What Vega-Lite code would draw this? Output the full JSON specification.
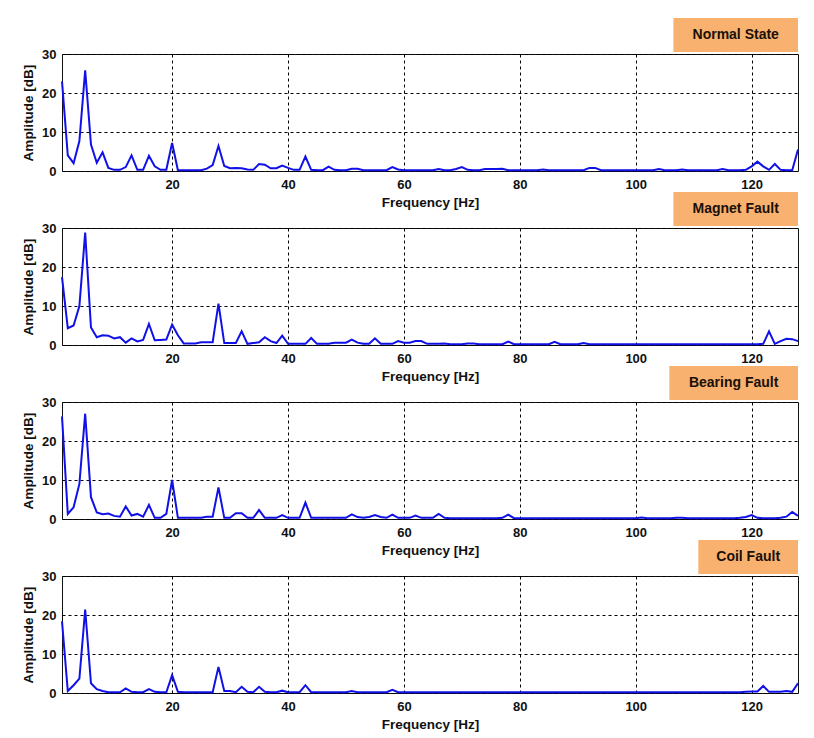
{
  "$schema": "https://vega.github.io/schema/vega-lite/v6.json",
  "padding": {"left": 21, "top": 17, "right": 11, "bottom": 5},
  "background": "white",
  "config": {
    "font": "Liberation Sans",
    "view": {"stroke": "#111", "strokeWidth": 1},
    "axis": {
      "labelFont": "Liberation Sans", "labelFontWeight": "bold", "labelFontSize": 13, "labelColor": "#111",
      "titleFont": "Liberation Sans", "titleFontWeight": "bold", "titleFontSize": 13.5, "titleColor": "#111",
      "grid": true, "gridColor": "#000", "gridOpacity": 1, "gridDash": [3, 3], "gridWidth": 1,
      "domain": false, "ticks": false, "labelOverlap": false
    }
  },
  "datasets": {
    "spec": [
      {"f":1,"n":23,"m":17.4,"b":26.3,"c":18.4},
      {"f":2,"n":4,"m":4.3,"b":1.3,"c":0.5},
      {"f":3,"n":2,"m":5,"b":3,"c":2},
      {"f":4,"n":7.7,"m":10,"b":9,"c":3.7},
      {"f":5,"n":25.8,"m":28.8,"b":27,"c":21.4},
      {"f":6,"n":6.8,"m":4.5,"b":5.6,"c":2.5},
      {"f":7,"n":2.1,"m":2,"b":1.7,"c":1},
      {"f":8,"n":4.8,"m":2.5,"b":1.2,"c":0.5},
      {"f":9,"n":0.8,"m":2.4,"b":1.4,"c":0.2},
      {"f":10,"n":0.3,"m":1.7,"b":0.8,"c":0.2},
      {"f":11,"n":0.3,"m":2,"b":0.6,"c":0.2},
      {"f":12,"n":1,"m":0.6,"b":3.2,"c":1.2},
      {"f":13,"n":4,"m":1.7,"b":0.9,"c":0.3},
      {"f":14,"n":0.3,"m":0.9,"b":1.3,"c":0.2},
      {"f":15,"n":0.3,"m":1.3,"b":0.6,"c":0.2},
      {"f":16,"n":3.9,"m":5.4,"b":3.6,"c":1},
      {"f":17,"n":1.2,"m":1.2,"b":0.3,"c":0.3},
      {"f":18,"n":0.3,"m":1.3,"b":0.3,"c":0.2},
      {"f":19,"n":0.3,"m":1.4,"b":1.3,"c":0.2},
      {"f":20,"n":7.2,"m":5.2,"b":10,"c":4.6},
      {"f":21,"n":0.2,"m":2.5,"b":0.3,"c":0.3},
      {"f":22,"n":0.2,"m":0.4,"b":0.3,"c":0.2},
      {"f":23,"n":0.2,"m":0.4,"b":0.3,"c":0.2},
      {"f":24,"n":0.2,"m":0.4,"b":0.3,"c":0.2},
      {"f":25,"n":0.2,"m":0.7,"b":0.3,"c":0.2},
      {"f":26,"n":0.6,"m":0.7,"b":0.6,"c":0.2},
      {"f":27,"n":1.5,"m":0.7,"b":0.6,"c":0.2},
      {"f":28,"n":6.4,"m":10.6,"b":8.1,"c":6.7},
      {"f":29,"n":1.3,"m":0.5,"b":0.3,"c":0.5},
      {"f":30,"n":0.7,"m":0.5,"b":0.3,"c":0.5},
      {"f":31,"n":0.8,"m":0.5,"b":1.5,"c":0.2},
      {"f":32,"n":0.7,"m":3.5,"b":1.5,"c":1.6},
      {"f":33,"n":0.4,"m":0.3,"b":0.3,"c":0.3},
      {"f":34,"n":0.3,"m":0.5,"b":0.3,"c":0.2},
      {"f":35,"n":1.8,"m":0.7,"b":2.3,"c":1.6},
      {"f":36,"n":1.6,"m":2,"b":0.3,"c":0.3},
      {"f":37,"n":0.7,"m":1,"b":0.3,"c":0.2},
      {"f":38,"n":0.7,"m":0.5,"b":0.3,"c":0.2},
      {"f":39,"n":1.4,"m":2.4,"b":1,"c":0.6},
      {"f":40,"n":0.8,"m":0.3,"b":0.3,"c":0.2},
      {"f":41,"n":0.3,"m":0.3,"b":0.3,"c":0.2},
      {"f":42,"n":0.3,"m":0.3,"b":0.3,"c":0.2},
      {"f":43,"n":3.7,"m":0.3,"b":4.2,"c":2},
      {"f":44,"n":0.3,"m":1.8,"b":0.3,"c":0.2},
      {"f":45,"n":0.2,"m":0.3,"b":0.3,"c":0.2},
      {"f":46,"n":0.2,"m":0.3,"b":0.3,"c":0.2},
      {"f":47,"n":1.1,"m":0.3,"b":0.3,"c":0.2},
      {"f":48,"n":0.3,"m":0.6,"b":0.3,"c":0.2},
      {"f":49,"n":0.2,"m":0.6,"b":0.3,"c":0.2},
      {"f":50,"n":0.2,"m":0.6,"b":0.3,"c":0.2},
      {"f":51,"n":0.6,"m":1.4,"b":1.2,"c":0.5},
      {"f":52,"n":0.6,"m":0.6,"b":0.5,"c":0.2},
      {"f":53,"n":0.2,"m":0.3,"b":0.3,"c":0.2},
      {"f":54,"n":0.2,"m":0.3,"b":0.5,"c":0.2},
      {"f":55,"n":0.2,"m":1.7,"b":1,"c":0.2},
      {"f":56,"n":0.2,"m":0.3,"b":0.5,"c":0.2},
      {"f":57,"n":0.2,"m":0.3,"b":0.3,"c":0.2},
      {"f":58,"n":1,"m":0.3,"b":1.1,"c":0.8},
      {"f":59,"n":0.4,"m":1,"b":0.3,"c":0.2},
      {"f":60,"n":0.2,"m":0.6,"b":0.3,"c":0.2},
      {"f":61,"n":0.2,"m":0.6,"b":0.3,"c":0.2},
      {"f":62,"n":0.2,"m":1,"b":0.9,"c":0.2},
      {"f":63,"n":0.2,"m":1,"b":0.3,"c":0.2},
      {"f":64,"n":0.2,"m":0.3,"b":0.3,"c":0.2},
      {"f":65,"n":0.2,"m":0.3,"b":0.3,"c":0.2},
      {"f":66,"n":0.5,"m":0.3,"b":1.3,"c":0.2},
      {"f":67,"n":0.2,"m":0.4,"b":0.3,"c":0.2},
      {"f":68,"n":0.2,"m":0.2,"b":0.2,"c":0.2},
      {"f":69,"n":0.5,"m":0.2,"b":0.2,"c":0.2},
      {"f":70,"n":1,"m":0.2,"b":0.2,"c":0.2},
      {"f":71,"n":0.3,"m":0.4,"b":0.2,"c":0.2},
      {"f":72,"n":0.2,"m":0.4,"b":0.2,"c":0.2},
      {"f":73,"n":0.2,"m":0.2,"b":0.2,"c":0.2},
      {"f":74,"n":0.5,"m":0.2,"b":0.2,"c":0.2},
      {"f":75,"n":0.5,"m":0.2,"b":0.2,"c":0.2},
      {"f":76,"n":0.5,"m":0.2,"b":0.2,"c":0.2},
      {"f":77,"n":0.6,"m":0.2,"b":0.3,"c":0.2},
      {"f":78,"n":0.2,"m":0.9,"b":1.1,"c":0.2},
      {"f":79,"n":0.2,"m":0.2,"b":0.2,"c":0.2},
      {"f":80,"n":0.2,"m":0.2,"b":0.2,"c":0.2},
      {"f":81,"n":0.2,"m":0.2,"b":0.2,"c":0.2},
      {"f":82,"n":0.2,"m":0.2,"b":0.2,"c":0.2},
      {"f":83,"n":0.2,"m":0.2,"b":0.2,"c":0.2},
      {"f":84,"n":0.4,"m":0.2,"b":0.2,"c":0.2},
      {"f":85,"n":0.2,"m":0.2,"b":0.2,"c":0.2},
      {"f":86,"n":0.2,"m":0.8,"b":0.2,"c":0.2},
      {"f":87,"n":0.2,"m":0.2,"b":0.2,"c":0.2},
      {"f":88,"n":0.2,"m":0.2,"b":0.2,"c":0.2},
      {"f":89,"n":0.2,"m":0.2,"b":0.2,"c":0.2},
      {"f":90,"n":0.2,"m":0.2,"b":0.2,"c":0.2},
      {"f":91,"n":0.2,"m":0.5,"b":0.2,"c":0.2},
      {"f":92,"n":0.8,"m":0.2,"b":0.2,"c":0.2},
      {"f":93,"n":0.8,"m":0.2,"b":0.2,"c":0.2},
      {"f":94,"n":0.2,"m":0.2,"b":0.2,"c":0.2},
      {"f":95,"n":0.2,"m":0.2,"b":0.2,"c":0.2},
      {"f":96,"n":0.2,"m":0.2,"b":0.2,"c":0.2},
      {"f":97,"n":0.2,"m":0.2,"b":0.2,"c":0.2},
      {"f":98,"n":0.2,"m":0.2,"b":0.2,"c":0.2},
      {"f":99,"n":0.2,"m":0.2,"b":0.2,"c":0.2},
      {"f":100,"n":0.2,"m":0.2,"b":0.2,"c":0.2},
      {"f":101,"n":0.2,"m":0.2,"b":0.4,"c":0.2},
      {"f":102,"n":0.2,"m":0.2,"b":0.2,"c":0.2},
      {"f":103,"n":0.2,"m":0.2,"b":0.2,"c":0.2},
      {"f":104,"n":0.5,"m":0.2,"b":0.2,"c":0.2},
      {"f":105,"n":0.2,"m":0.2,"b":0.2,"c":0.2},
      {"f":106,"n":0.2,"m":0.2,"b":0.2,"c":0.2},
      {"f":107,"n":0.2,"m":0.2,"b":0.3,"c":0.2},
      {"f":108,"n":0.4,"m":0.2,"b":0.3,"c":0.2},
      {"f":109,"n":0.2,"m":0.2,"b":0.2,"c":0.2},
      {"f":110,"n":0.2,"m":0.2,"b":0.2,"c":0.2},
      {"f":111,"n":0.2,"m":0.2,"b":0.2,"c":0.2},
      {"f":112,"n":0.2,"m":0.2,"b":0.2,"c":0.2},
      {"f":113,"n":0.2,"m":0.2,"b":0.2,"c":0.2},
      {"f":114,"n":0.2,"m":0.2,"b":0.2,"c":0.2},
      {"f":115,"n":0.5,"m":0.2,"b":0.2,"c":0.2},
      {"f":116,"n":0.2,"m":0.2,"b":0.2,"c":0.2},
      {"f":117,"n":0.2,"m":0.2,"b":0.2,"c":0.2},
      {"f":118,"n":0.2,"m":0.2,"b":0.3,"c":0.2},
      {"f":119,"n":0.3,"m":0.2,"b":0.5,"c":0.3},
      {"f":120,"n":1.2,"m":0.2,"b":1,"c":0.4},
      {"f":121,"n":2.4,"m":0.2,"b":0.3,"c":0.4},
      {"f":122,"n":1.2,"m":0.3,"b":0.2,"c":1.8},
      {"f":123,"n":0.3,"m":3.5,"b":0.2,"c":0.3},
      {"f":124,"n":1.8,"m":0.3,"b":0.2,"c":0.3},
      {"f":125,"n":0.3,"m":1,"b":0.3,"c":0.3},
      {"f":126,"n":0.2,"m":1.6,"b":0.6,"c":0.5},
      {"f":127,"n":0.2,"m":1.5,"b":1.8,"c":0.3},
      {"f":128,"n":5.5,"m":1,"b":0.8,"c":2.5}
    ],
    "labels": [
      {"panel": "n", "label": "Normal State"},
      {"panel": "m", "label": "Magnet Fault"},
      {"panel": "b", "label": "Bearing Fault"},
      {"panel": "c", "label": "Coil Fault"}
    ]
  },
  "spacing": 57,
  "bounds": "flush",
  "vconcat": [
    {
      "width": 736, "height": 117,
      "layer": [
        {"data": {"name": "spec"},
         "mark": {"type": "line", "color": "#1010E8", "strokeWidth": 2},
         "encoding": {
           "x": {"field": "f", "type": "quantitative", "scale": {"domain": [1, 128], "nice": false},
                 "axis": {"values": [20, 40, 60, 80, 100, 120], "title": "Frequency [Hz]", "labelPadding": 7, "titlePadding": 4}},
           "y": {"field": "n", "type": "quantitative", "scale": {"domain": [0, 30], "nice": false},
                 "axis": {"values": [0, 10, 20, 30], "title": "Amplitude [dB]", "labelPadding": 6, "titlePadding": 6}}}},
        {"data": {"name": "labels"}, "transform": [{"filter": "datum.panel === 'n'"}],
         "mark": {"type": "rect", "color": "#F9B16F", "clip": false},
         "encoding": {
           "x": {"datum": 106.5, "type": "quantitative", "scale": {"domain": [1, 128], "nice": false},
                 "axis": {"values": [20, 40, 60, 80, 100, 120], "title": "Frequency [Hz]", "labelPadding": 7, "titlePadding": 4}},
           "x2": {"datum": 128},
           "y": {"datum": 30.5, "type": "quantitative", "scale": {"domain": [0, 30], "nice": false},
                 "axis": {"values": [0, 10, 20, 30], "title": "Amplitude [dB]", "labelPadding": 6, "titlePadding": 6}},
           "y2": {"datum": 39.2}}},
        {"data": {"name": "labels"}, "transform": [{"filter": "datum.panel === 'n'"}],
         "mark": {"type": "text", "font": "Liberation Sans", "fontWeight": "bold", "fontSize": 14, "color": "#1a1008", "clip": false},
         "encoding": {
           "x": {"datum": 117.25, "type": "quantitative", "scale": {"domain": [1, 128], "nice": false},
                 "axis": {"values": [20, 40, 60, 80, 100, 120], "title": "Frequency [Hz]", "labelPadding": 7, "titlePadding": 4}},
           "y": {"datum": 34.85, "type": "quantitative", "scale": {"domain": [0, 30], "nice": false},
                 "axis": {"values": [0, 10, 20, 30], "title": "Amplitude [dB]", "labelPadding": 6, "titlePadding": 6}},
           "text": {"field": "label"}}}
      ]
    },
    {
      "width": 736, "height": 117,
      "layer": [
        {"data": {"name": "spec"},
         "mark": {"type": "line", "color": "#1010E8", "strokeWidth": 2},
         "encoding": {
           "x": {"field": "f", "type": "quantitative", "scale": {"domain": [1, 128], "nice": false},
                 "axis": {"values": [20, 40, 60, 80, 100, 120], "title": "Frequency [Hz]", "labelPadding": 7, "titlePadding": 4}},
           "y": {"field": "m", "type": "quantitative", "scale": {"domain": [0, 30], "nice": false},
                 "axis": {"values": [0, 10, 20, 30], "title": "Amplitude [dB]", "labelPadding": 6, "titlePadding": 6}}}},
        {"data": {"name": "labels"}, "transform": [{"filter": "datum.panel === 'm'"}],
         "mark": {"type": "rect", "color": "#F9B16F", "clip": false},
         "encoding": {
           "x": {"datum": 106.5, "type": "quantitative", "scale": {"domain": [1, 128], "nice": false},
                 "axis": {"values": [20, 40, 60, 80, 100, 120], "title": "Frequency [Hz]", "labelPadding": 7, "titlePadding": 4}},
           "x2": {"datum": 128},
           "y": {"datum": 30.5, "type": "quantitative", "scale": {"domain": [0, 30], "nice": false},
                 "axis": {"values": [0, 10, 20, 30], "title": "Amplitude [dB]", "labelPadding": 6, "titlePadding": 6}},
           "y2": {"datum": 39.2}}},
        {"data": {"name": "labels"}, "transform": [{"filter": "datum.panel === 'm'"}],
         "mark": {"type": "text", "font": "Liberation Sans", "fontWeight": "bold", "fontSize": 14, "color": "#1a1008", "clip": false},
         "encoding": {
           "x": {"datum": 117.25, "type": "quantitative", "scale": {"domain": [1, 128], "nice": false},
                 "axis": {"values": [20, 40, 60, 80, 100, 120], "title": "Frequency [Hz]", "labelPadding": 7, "titlePadding": 4}},
           "y": {"datum": 34.85, "type": "quantitative", "scale": {"domain": [0, 30], "nice": false},
                 "axis": {"values": [0, 10, 20, 30], "title": "Amplitude [dB]", "labelPadding": 6, "titlePadding": 6}},
           "text": {"field": "label"}}}
      ]
    },
    {
      "width": 736, "height": 117,
      "layer": [
        {"data": {"name": "spec"},
         "mark": {"type": "line", "color": "#1010E8", "strokeWidth": 2},
         "encoding": {
           "x": {"field": "f", "type": "quantitative", "scale": {"domain": [1, 128], "nice": false},
                 "axis": {"values": [20, 40, 60, 80, 100, 120], "title": "Frequency [Hz]", "labelPadding": 7, "titlePadding": 4}},
           "y": {"field": "b", "type": "quantitative", "scale": {"domain": [0, 30], "nice": false},
                 "axis": {"values": [0, 10, 20, 30], "title": "Amplitude [dB]", "labelPadding": 6, "titlePadding": 6}}}},
        {"data": {"name": "labels"}, "transform": [{"filter": "datum.panel === 'b'"}],
         "mark": {"type": "rect", "color": "#F9B16F", "clip": false},
         "encoding": {
           "x": {"datum": 105.8, "type": "quantitative", "scale": {"domain": [1, 128], "nice": false},
                 "axis": {"values": [20, 40, 60, 80, 100, 120], "title": "Frequency [Hz]", "labelPadding": 7, "titlePadding": 4}},
           "x2": {"datum": 128},
           "y": {"datum": 30.5, "type": "quantitative", "scale": {"domain": [0, 30], "nice": false},
                 "axis": {"values": [0, 10, 20, 30], "title": "Amplitude [dB]", "labelPadding": 6, "titlePadding": 6}},
           "y2": {"datum": 39.2}}},
        {"data": {"name": "labels"}, "transform": [{"filter": "datum.panel === 'b'"}],
         "mark": {"type": "text", "font": "Liberation Sans", "fontWeight": "bold", "fontSize": 14, "color": "#1a1008", "clip": false},
         "encoding": {
           "x": {"datum": 116.9, "type": "quantitative", "scale": {"domain": [1, 128], "nice": false},
                 "axis": {"values": [20, 40, 60, 80, 100, 120], "title": "Frequency [Hz]", "labelPadding": 7, "titlePadding": 4}},
           "y": {"datum": 34.85, "type": "quantitative", "scale": {"domain": [0, 30], "nice": false},
                 "axis": {"values": [0, 10, 20, 30], "title": "Amplitude [dB]", "labelPadding": 6, "titlePadding": 6}},
           "text": {"field": "label"}}}
      ]
    },
    {
      "width": 736, "height": 117,
      "layer": [
        {"data": {"name": "spec"},
         "mark": {"type": "line", "color": "#1010E8", "strokeWidth": 2},
         "encoding": {
           "x": {"field": "f", "type": "quantitative", "scale": {"domain": [1, 128], "nice": false},
                 "axis": {"values": [20, 40, 60, 80, 100, 120], "title": "Frequency [Hz]", "labelPadding": 7, "titlePadding": 4}},
           "y": {"field": "c", "type": "quantitative", "scale": {"domain": [0, 30], "nice": false},
                 "axis": {"values": [0, 10, 20, 30], "title": "Amplitude [dB]", "labelPadding": 6, "titlePadding": 6}}}},
        {"data": {"name": "labels"}, "transform": [{"filter": "datum.panel === 'c'"}],
         "mark": {"type": "rect", "color": "#F9B16F", "clip": false},
         "encoding": {
           "x": {"datum": 110.8, "type": "quantitative", "scale": {"domain": [1, 128], "nice": false},
                 "axis": {"values": [20, 40, 60, 80, 100, 120], "title": "Frequency [Hz]", "labelPadding": 7, "titlePadding": 4}},
           "x2": {"datum": 128},
           "y": {"datum": 30.5, "type": "quantitative", "scale": {"domain": [0, 30], "nice": false},
                 "axis": {"values": [0, 10, 20, 30], "title": "Amplitude [dB]", "labelPadding": 6, "titlePadding": 6}},
           "y2": {"datum": 39.2}}},
        {"data": {"name": "labels"}, "transform": [{"filter": "datum.panel === 'c'"}],
         "mark": {"type": "text", "font": "Liberation Sans", "fontWeight": "bold", "fontSize": 14, "color": "#1a1008", "clip": false},
         "encoding": {
           "x": {"datum": 119.4, "type": "quantitative", "scale": {"domain": [1, 128], "nice": false},
                 "axis": {"values": [20, 40, 60, 80, 100, 120], "title": "Frequency [Hz]", "labelPadding": 7, "titlePadding": 4}},
           "y": {"datum": 34.85, "type": "quantitative", "scale": {"domain": [0, 30], "nice": false},
                 "axis": {"values": [0, 10, 20, 30], "title": "Amplitude [dB]", "labelPadding": 6, "titlePadding": 6}},
           "text": {"field": "label"}}}
      ]
    }
  ]
}
